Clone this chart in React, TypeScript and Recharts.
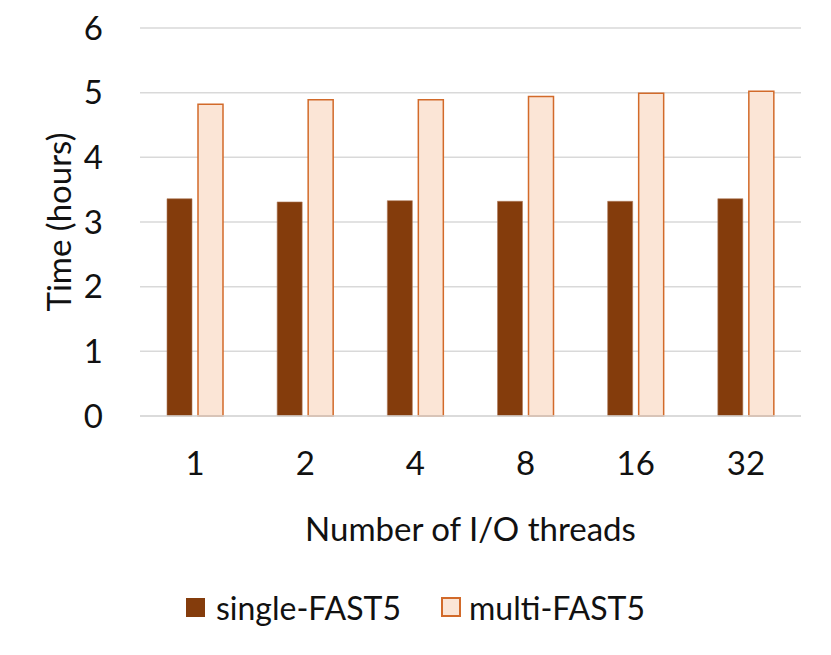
import React from "react";
import { BarChart, Bar, XAxis, YAxis, CartesianGrid, Legend, Label } from "recharts";

/* ─── Data ─────────────────────────────────── */
const threads = ["1", "2", "4", "8", "16", "32"];
const singleFast5 = [3.36, 3.31, 3.33, 3.32, 3.32, 3.36];
const multiFast5 = [4.82, 4.89, 4.89, 4.94, 4.99, 5.02];
const yTicks = [0, 1, 2, 3, 4, 5, 6];

const data = threads.map((t, i) => ({ threads: t, single: singleFast5[i], multi: multiFast5[i] }));

const FONT = "Lato, 'Open Sans', sans-serif";
const SINGLE_FILL = "#843C0C";
const MULTI_FILL = "#FBE5D6";
const MULTI_STROKE = "#D26A2A";
const GRID = "#D9D9D9";

const LegendContent = () => (
  <div style={{ display: "flex", justifyContent: "center", alignItems: "center", height: 36, fontFamily: FONT, fontSize: 32, color: "#111" }}>
    <span style={{ display: "inline-block", width: 19, height: 19, background: SINGLE_FILL, marginRight: 11 }} />
    <span style={{ marginRight: 40 }}>single-FAST5</span>
    <span style={{ display: "inline-block", width: 16, height: 16, background: MULTI_FILL, border: `2px solid ${MULTI_STROKE}`, marginRight: 8 }} />
    <span>multi-FAST5</span>
  </div>
);

export default function App() {
  return (
    <div style={{ margin: -8, width: 831, height: 655, background: "#fff" }}>
      <BarChart
        width={831}
        height={655}
        data={data}
        margin={{ top: 28, right: 30, left: 0, bottom: 109 }}
        barSize={25}
        barGap={6}
      >
        <CartesianGrid vertical={false} stroke={GRID} strokeWidth={1.5} />
        <XAxis
          dataKey="threads"
          axisLine={{ stroke: GRID, strokeWidth: 1.5 }}
          tickLine={false}
          tickSize={0}
          tickMargin={36}
          height={130}
          tick={{ fontSize: 33, fill: "#111", fontFamily: FONT }}
        >
          <Label
            content={({ viewBox }: any) => (
              <text
                x={viewBox.x + viewBox.width / 2}
                y={528}
                textAnchor="middle"
                dominantBaseline="central"
                fontSize={33}
                fontFamily={FONT}
                fill="#111"
              >
                Number of I/O threads
              </text>
            )}
          />
        </XAxis>
        <YAxis
          domain={[0, 6]}
          ticks={yTicks}
          width={140}
          axisLine={false}
          tickLine={false}
          tickSize={0}
          tickMargin={37}
          tick={{ fontSize: 33, fill: "#111", fontFamily: FONT }}
        >
          <Label
            content={({ viewBox }: any) => {
              const cx = 58;
              const cy = viewBox.y + viewBox.height / 2;
              return (
                <text
                  x={cx}
                  y={cy}
                  transform={`rotate(-90 ${cx} ${cy})`}
                  textAnchor="middle"
                  dominantBaseline="central"
                  fontSize={33}
                  fontFamily={FONT}
                  fill="#111"
                >
                  Time (hours)
                </text>
              );
            }}
          />
        </YAxis>
        <Legend
          verticalAlign="middle"
          align="center"
          layout="horizontal"
          content={<LegendContent />}
          wrapperStyle={{ top: 589, left: 0, width: 831, height: 36 }}
        />
        <Bar dataKey="single" name="single-FAST5" fill={SINGLE_FILL} stroke="#B07A5A" strokeWidth={0.6} isAnimationActive={false} />
        <Bar dataKey="multi" name="multi-FAST5" fill={MULTI_FILL} stroke={MULTI_STROKE} strokeWidth={1.5} isAnimationActive={false} />
      </BarChart>
    </div>
  );
}
